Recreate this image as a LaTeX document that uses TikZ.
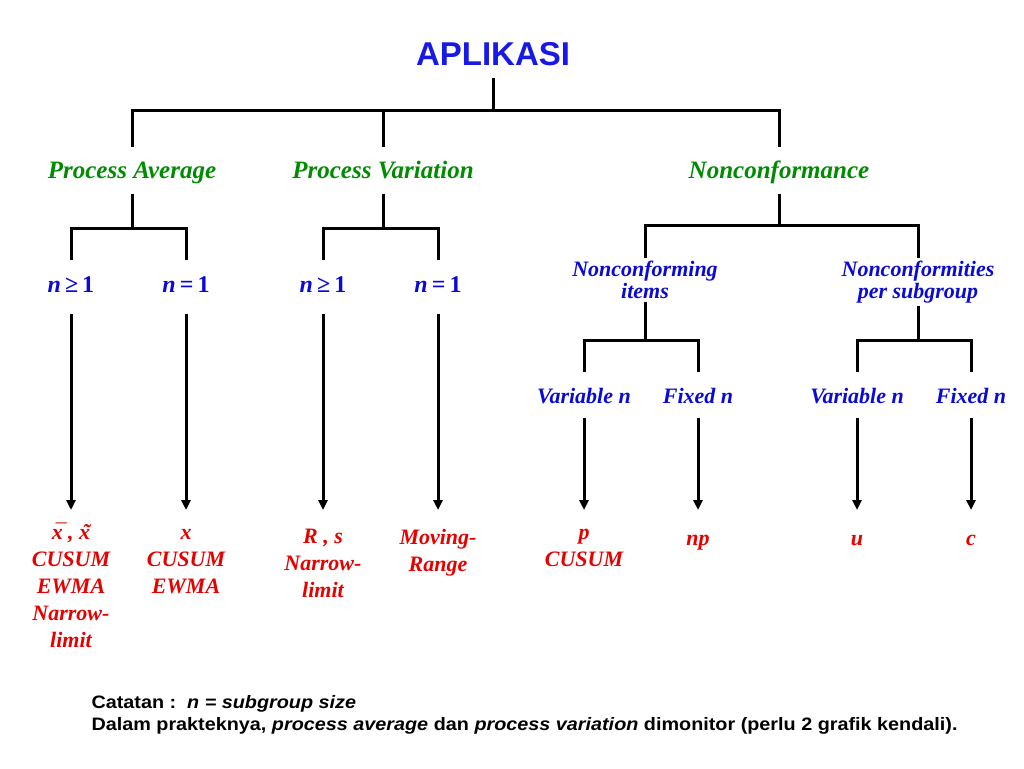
\documentclass[tikz,border=0pt]{standalone}
\usepackage{fontspec}
\setmainfont{Liberation Serif}
\newfontfamily\arialfont{Liberation Sans}
\newfontfamily\notefont{Liberation Sans}[FakeStretch=1.1]
\usetikzlibrary{arrows.meta,positioning,calc}
\definecolor{titleblue}{RGB}{25,25,230}
\definecolor{catgreen}{RGB}{0,140,0}
\definecolor{condblue}{RGB}{10,10,215}
\definecolor{chartred}{RGB}{230,0,0}
\newcommand{\xbarsym}{\ooalign{x\cr\hidewidth\kern0.22em\char"00AF\hidewidth\cr}}
\newcommand{\xtildesym}{\ooalign{x\cr\hidewidth\kern0.15em\char"02DC\hidewidth\cr}}
\tikzset{
heading/.style = {font=\arialfont\bfseries\fontsize{33}{40}\selectfont, text=titleblue, inner sep=0, outer sep=13pt, anchor=base},
cat/.style     = {font=\bfseries\itshape\fontsize{25}{30}\selectfont, text=catgreen, inner sep=0, text height=17pt, text depth=0pt, outer sep=15pt, anchor=base},
cond/.style    = {font=\bfseries\fontsize{24}{29}\selectfont, text=condblue, inner sep=0, text height=16pt, text depth=6pt, outer sep=16pt, anchor=base},
group/.style   = {font=\bfseries\itshape\fontsize{22}{22}\selectfont, text=condblue, align=center, inner sep=0, outer sep=3pt, anchor=north},
sub/.style     = {font=\bfseries\itshape\fontsize{22}{27}\selectfont, text=condblue, inner sep=0, text height=16pt, text depth=0pt, outer sep=15pt, anchor=base},
chart/.style   = {font=\bfseries\itshape\fontsize{22}{27}\selectfont, text=chartred, align=center, inner sep=0, outer sep=19pt, anchor=north,
                  execute at begin node=\rule{0pt}{16pt}},
note/.style    = {font=\notefont\bfseries\fontsize{18}{22}\selectfont, inner sep=0, anchor=base west},
tmp/.style     = {coordinate}
}
\begin{document}
\begin{tikzpicture}[x=1pt, y=-1pt, >={Triangle[length=10pt,width=9pt]}, line width=3pt]
  \path[fill=white, use as bounding box] (0,0) rectangle (1024,768);

  \node [heading] (aplikasi) at (493,65)    {APLIKASI};
  \node [tmp]     (j0)       at (493,110)   {};

  \node [cat] (avg)     at (132,178.5) {Process Average};
  \node [cat] (var)     at (383,178.5) {Process Variation};
  \node [cat] (nonconf) at (779,178.5) {Nonconformance};
  \node [tmp] (jAvg)    at (132,228)   {};
  \node [tmp] (jVar)    at (383,228)   {};
  \node [tmp] (jNon)    at (779,225)   {};

  \node [cond] (avgA) at (71,292)  {\textit{n}\,≥\,1};
  \node [cond] (avgB) at (186,292) {\textit{n}\,=\,1};
  \node [cond] (varA) at (323,292) {\textit{n}\,≥\,1};
  \node [cond] (varB) at (438,292) {\textit{n}\,=\,1};

  \node [group] (items)  at (645,258) {Nonconforming\\items};
  \node [group] (persub) at (918,258) {Nonconformities\\per subgroup};
  \node [tmp]   (jItems) at (645,340) {};
  \node [tmp]   (jSub)   at (918,340) {};

  \node [sub] (itemsVar) at (584,403) {Variable n};
  \node [sub] (itemsFix) at (698,403) {Fixed n};
  \node [sub] (subVar)   at (857,403) {Variable n};
  \node [sub] (subFix)   at (971,403) {Fixed n};

  % control charts
  \node [chart] (outAvgA) at (71,510)  {\xbarsym\ , \xtildesym\\CUSUM\\EWMA\\Narrow-\\limit};
  \node [chart] (outAvgB) at (186,510) {x\\CUSUM\\EWMA};
  \node [chart] (outVarA) at (323,510) {R , s\\Narrow-\\limit};
  \node [chart] (outVarB) at (438,510) {Moving-\\Range};
  \node [chart] (outP)    at (584,510) {p\\CUSUM};
  \node [chart] (outNp)   at (698,510) {np};
  \node [chart] (outU)    at (857,510) {u};
  \node [chart] (outC)    at (971,510) {c};

  \node [note] (note1) at (90,708) {Catatan :\ \ \textit{n = subgroup size}};
  \node [note] (note2) at (90,730) {Dalam prakteknya, \textit{process average} dan \textit{process variation} dimonitor (perlu 2 grafik kendali).};

  \draw (aplikasi) -- (j0);
  \draw (j0) -| (avg);
  \draw (j0) -| (var);
  \draw (j0) -| (nonconf);

  \draw (avg) -- (jAvg);
  \draw (jAvg) -| (avgA);
  \draw (jAvg) -| (avgB);
  \draw (var) -- (jVar);
  \draw (jVar) -| (varA);
  \draw (jVar) -| (varB);

  \draw (nonconf) -- (jNon);
  \draw (jNon) -| (items);
  \draw (jNon) -| (persub);
  \draw (items) -- (jItems);
  \draw (jItems) -| (itemsVar);
  \draw (jItems) -| (itemsFix);
  \draw (persub) -- (jSub);
  \draw (jSub) -| (subVar);
  \draw (jSub) -| (subFix);

  \draw [->] (avgA) -- (outAvgA);
  \draw [->] (avgB) -- (outAvgB);
  \draw [->] (varA) -- (outVarA);
  \draw [->] (varB) -- (outVarB);
  \draw [->] (itemsVar) -- (outP);
  \draw [->] (itemsFix) -- (outNp);
  \draw [->] (subVar) -- (outU);
  \draw [->] (subFix) -- (outC);
\end{tikzpicture}
\end{document}
